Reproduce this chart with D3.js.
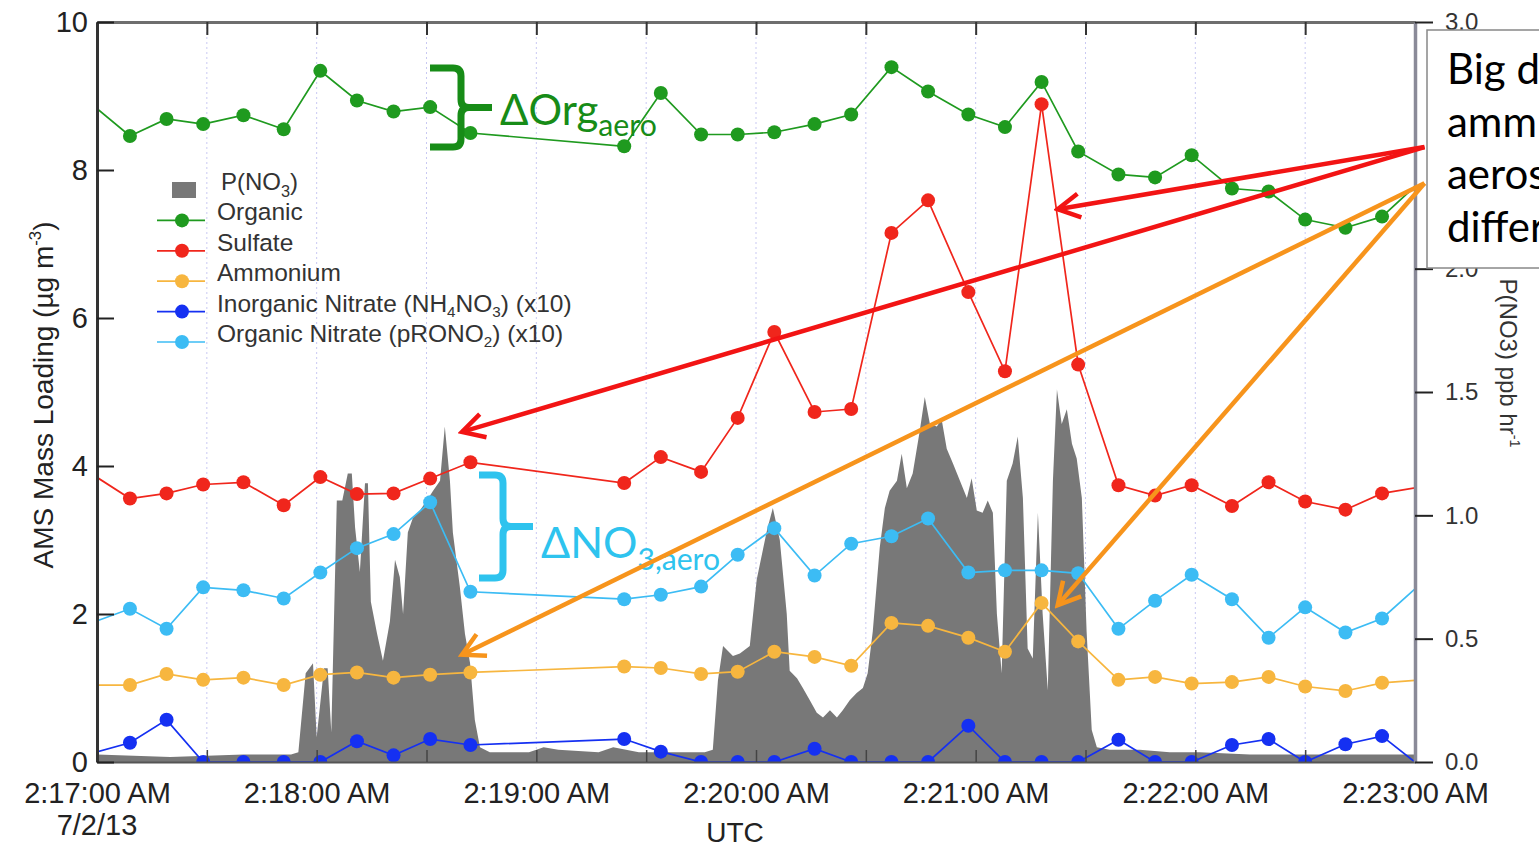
<!DOCTYPE html>
<html>
<head>
<meta charset="utf-8">
<script src="https://cdn.jsdelivr.net/npm/d3@7"></script>
<style>
  body { margin: 0; background: #fff; }
  svg { display: block; font-family: "Liberation Sans", Arial, sans-serif; }
</style>
</head>
<body>
<svg id="chart" width="1539" height="848"></svg>
<script>
// AMS samples, seconds after 2:17:00 UTC (first / last sit just outside the axis)
const sampleSec = [-2, 9, 19, 29, 40, 51, 61, 71, 81, 91, 102,
  144, 154, 165, 175, 185, 196, 206, 217, 227, 238,
  248, 258, 268, 279, 289, 299, 310, 320, 330, 341, 351, 362];

const organic = [8.91, 8.46, 8.69, 8.62, 8.74, 8.55, 9.34, 8.94, 8.79, 8.85, 8.50,
  8.32, 9.04, 8.48, 8.48, 8.51, 8.62, 8.75, 9.39, 9.06, 8.75,
  8.58, 9.19, 8.25, 7.94, 7.90, 8.20, 7.75, 7.71, 7.33, 7.22, 7.37, 7.87];
const sulfate = [3.91, 3.56, 3.63, 3.75, 3.78, 3.47, 3.85, 3.62, 3.63, 3.83, 4.05,
  3.77, 4.12, 3.92, 4.65, 5.81, 4.73, 4.77, 7.15, 7.59, 6.35,
  5.28, 8.89, 5.37, 3.74, 3.60, 3.74, 3.46, 3.78, 3.52, 3.41, 3.63, 3.72];
const ammonium = [1.04, 1.04, 1.19, 1.11, 1.14, 1.04, 1.18, 1.21, 1.14, 1.18, 1.21,
  1.29, 1.27, 1.19, 1.22, 1.49, 1.42, 1.30, 1.88, 1.84, 1.68,
  1.49, 2.15, 1.63, 1.11, 1.15, 1.06, 1.08, 1.15, 1.02, 0.96, 1.07, 1.11];
const inorgNitrate = [0.11, 0.26, 0.57, 0, 0, 0, 0, 0.28, 0.09, 0.31, 0.23,
  0.31, 0.14, 0, 0, 0, 0.18, 0, 0, 0, 0.49,
  0, 0, 0, 0.30, 0, 0, 0.23, 0.31, 0, 0.24, 0.35, -0.08];
const orgNitrate = [1.87, 2.07, 1.80, 2.36, 2.32, 2.21, 2.56, 2.89, 3.08, 3.51, 2.30,
  2.20, 2.26, 2.37, 2.80, 3.16, 2.52, 2.95, 3.05, 3.29, 2.56,
  2.59, 2.59, 2.55, 1.80, 2.18, 2.53, 2.20, 1.68, 2.09, 1.75, 1.94, 2.43];

// P(NO3) production rate, ppb/hr (right axis)
const pSec = [0, 20, 40, 53, 55, 57, 59, 60, 62, 63, 64, 65.5, 67, 68.5, 69.6, 70.5, 71.8, 73.2, 74,
  74.8, 76.5, 78.1, 80, 81.4, 82.7, 83.6, 84.9, 86.3, 88.2, 90.1, 91.8, 93.7, 95, 96.4, 97.2,
  99.1, 100.5, 101.9, 103.2, 104.6, 107.3, 118, 122, 126, 137, 141, 148, 166, 168.2, 169.6,
  171, 173.7, 175.6, 178.3, 180.2, 183, 184.6, 186.5, 188.4, 189.2, 191.2, 192.8, 194.7,
  196.6, 198.3, 200.2, 202.1, 203.7, 205.6, 207.5, 209.2, 210.5, 211.9, 213.8, 215.2, 216.5,
  218.5, 219.8, 221.2, 222.8, 224.7, 226.1, 227.5, 229.4, 230.7, 232.1, 233.8, 235.7, 237.6,
  238.9, 240.3, 241.9, 243.3, 244.7, 245.8, 247.1, 248.5, 250.1, 251.5, 252.9, 254.2, 255.6,
  257, 258.3, 259.7, 261.1, 262.2, 263.5, 264.9, 266.3, 267.6, 269, 270.3, 271.7, 273.1,
  276.6, 284.8, 293, 301.2, 314.9, 328.5, 342.2, 360];
const pVal = [0.03, 0.02, 0.03, 0.03, 0.04, 0.36, 0.40, 0.10, 0.38, 0.38, 0.12, 1.06, 1.06, 1.17, 1.17, 0.95, 0.77, 1.13, 1.13,
  0.65, 0.52, 0.41, 0.57, 0.82, 0.75, 0.60, 0.93, 0.99, 1.02, 1.06, 1.10, 1.14, 1.36, 1.14, 0.93,
  0.71, 0.52, 0.40, 0.17, 0.06, 0.04, 0.04, 0.06, 0.05, 0.04, 0.06, 0.04, 0.04, 0.05, 0.33,
  0.47, 0.43, 0.44, 0.47, 0.74, 0.94, 1.03, 0.90, 0.60, 0.37, 0.34, 0.30, 0.25,
  0.20, 0.18, 0.21, 0.18, 0.21, 0.25, 0.28, 0.30, 0.36, 0.53, 0.87, 1.03, 1.10,
  1.14, 1.25, 1.11, 1.17, 1.34, 1.48, 1.37, 1.36, 1.39, 1.27, 1.21, 1.14, 1.07,
  1.15, 1.02, 1.01, 1.06, 1.01, 0.60, 0.36, 1.14, 1.21, 1.32, 1.07, 0.46, 0.42,
  1.01, 0.60, 0.29, 1.14, 1.51, 1.37, 1.43, 1.29, 1.23, 1.07, 0.53, 0.13, 0.06,
  0.05, 0.05, 0.04, 0.04, 0.03, 0.03, 0.03, 0.03];

const seriesNames = ["Organic", "Sulfate", "Ammonium",
  "Inorganic Nitrate (NH4NO3) (x10)", "Organic Nitrate (pRONO2) (x10)"];
const seriesValues = [organic, sulfate, ammonium, inorgNitrate, orgNitrate];
const seriesColors = ["#1f9a1f", "#f0261c", "#f7b63f", "#1530f2", "#3cbcf4"];
const legendParts = [
  ["Organic"], ["Sulfate"], ["Ammonium"],
  ["Inorganic Nitrate (NH", ["4", "sub"], "NO", ["3", "sub"], ") (x10)"],
  ["Organic Nitrate (pRONO", ["2", "sub"], ") (x10)"]
];

const leftTicks = [0, 2, 4, 6, 8, 10];
const rightTicks = [0, 0.5, 1, 1.5, 2, 3];   // 2.5 sits under the callout box

const svg = d3.select("#chart");
const t0 = Date.UTC(2013, 6, 2, 2, 17, 0);
const at = s => new Date(t0 + s * 1000);

const plot = {left: 97, right: 1415, top: 22, bottom: 762};
const x = d3.scaleUtc().domain([at(0), at(360)]).range([plot.left, plot.right]);
const yL = d3.scaleLinear().domain([0, 10]).range([plot.bottom, plot.top]);
const yR = d3.scaleLinear().domain([0, 3]).range([plot.bottom, plot.top]);

// rich text helper: sub / superscripts
function rich(t, parts, fs, scale, shift) {
  let off = 0;
  parts.forEach(p => {
    const s = typeof p === "string" ? p : p[0];
    const k = typeof p === "string" ? "" : p[1];
    const target = k === "sub" ? fs * (shift || 0.28) : k === "sup" ? -fs * 0.42 : 0;
    const sp = t.append("tspan").attr("dy", target - off).text(s);
    if (k) sp.attr("font-size", fs * (scale || 0.68));
    off = target;
  });
}

svg.append("defs").append("clipPath").attr("id", "plotClip")
  .append("rect")
  .attr("x", plot.left).attr("y", plot.top)
  .attr("width", plot.right - plot.left).attr("height", plot.bottom - plot.top);

// dotted vertical grid every 30 s
const halfMin = d3.range(30, 360, 30);
svg.append("g").selectAll("line").data(halfMin).enter().append("line")
  .attr("x1", d => x(at(d))).attr("x2", d => x(at(d)))
  .attr("y1", plot.top).attr("y2", plot.bottom)
  .attr("stroke", "#c9c9f2").attr("stroke-width", 1).attr("stroke-dasharray", "2,3");

// P(NO3) area
const pData = pSec.map((s, i) => ({s: s, v: pVal[i]}));
svg.append("path").datum(pData)
  .attr("clip-path", "url(#plotClip)")
  .attr("fill", "#787878")
  .attr("d", d3.area().x(d => x(at(d.s))).y0(yR(0)).y1(d => yR(d.v)));

// AMS series
const lineG = svg.append("g").attr("clip-path", "url(#plotClip)");
seriesValues.forEach((vals, k) => {
  const pts = sampleSec.map((s, i) => ({s: s, v: vals[i]}));
  lineG.append("path").datum(pts)
    .attr("fill", "none").attr("stroke", seriesColors[k]).attr("stroke-width", 1.7)
    .attr("d", d3.line().x(d => x(at(d.s))).y(d => yL(d.v)));
  lineG.selectAll(".m" + k).data(pts).enter().append("circle")
    .attr("class", "m" + k)
    .attr("cx", d => x(at(d.s))).attr("cy", d => yL(d.v)).attr("r", 7)
    .attr("fill", seriesColors[k]);
});

// axes
const tickVals = d3.range(0, 361, 30).map(at);
const fmt = d3.utcFormat("%-I:%M:%S %p");

const gTop = svg.append("g").attr("transform", "translate(0," + plot.top + ")")
  .call(d3.axisTop(x).tickValues(tickVals).tickSizeInner(-13).tickSizeOuter(0).tickFormat(""));
gTop.select(".domain").attr("stroke", "#6e6e6e").attr("stroke-width", 3);
gTop.selectAll(".tick line").attr("stroke", "#333").attr("stroke-width", 2);

const gBot = svg.append("g").attr("transform", "translate(0," + plot.bottom + ")")
  .call(d3.axisBottom(x).tickValues(tickVals).tickSizeInner(-12).tickSizeOuter(0).tickPadding(20)
    .tickFormat(d => d.getUTCSeconds() === 0 ? fmt(d) : ""));
gBot.select(".domain").attr("stroke", "#555").attr("stroke-width", 2);
gBot.selectAll(".tick line").attr("stroke", "#444").attr("stroke-width", 1.5);
gBot.selectAll("text").attr("font-size", 29).attr("fill", "#222")
  .attr("font-family", "Liberation Sans, Arial, sans-serif");

const gL = svg.append("g").attr("transform", "translate(" + plot.left + ",0)")
  .call(d3.axisLeft(yL).tickValues(leftTicks).tickSizeInner(-17).tickSizeOuter(0).tickPadding(9));
gL.select(".domain").attr("stroke", "#333").attr("stroke-width", 3);
gL.selectAll(".tick line").attr("stroke", "#222").attr("stroke-width", 2);
gL.selectAll("text").attr("font-size", 29).attr("fill", "#222")
  .attr("font-family", "Liberation Sans, Arial, sans-serif");

const gR = svg.append("g").attr("transform", "translate(" + plot.right + ",0)")
  .call(d3.axisRight(yR).tickValues(rightTicks).tickFormat(d3.format(".1f"))
    .tickSizeInner(18).tickSizeOuter(0).tickPadding(12));
gR.select(".domain").attr("stroke", "#8a8a98").attr("stroke-width", 3.5);
gR.selectAll(".tick line").attr("stroke", "#222").attr("stroke-width", 2);
gR.selectAll("text").attr("font-size", 24).attr("fill", "#333")
  .attr("font-family", "Liberation Sans, Arial, sans-serif");

// axis titles
svg.append("text").attr("x", x(at(0))).attr("y", 835).attr("text-anchor", "middle")
  .attr("font-size", 29).attr("fill", "#222").text("7/2/13");
svg.append("text").attr("x", 735).attr("y", 842).attr("text-anchor", "middle")
  .attr("font-size", 28).attr("fill", "#222").text("UTC");

const yTitle = svg.append("text").attr("transform", "translate(53,395) rotate(-90)")
  .attr("text-anchor", "middle").attr("font-size", 28).attr("fill", "#222");
rich(yTitle, ["AMS Mass Loading (µg m", ["-3", "sup"], ")"], 28, 0.6);

const rTitle = svg.append("text").attr("transform", "translate(1500,363) rotate(90)")
  .attr("text-anchor", "middle").attr("font-size", 24).attr("fill", "#333");
rich(rTitle, ["P(NO3) ppb hr", ["-1", "sup"]], 24, 0.6);

// legend
const legend = svg.append("g");
const rowY = i => 190 + i * 30.4;
legend.append("rect").attr("x", 172).attr("y", rowY(0) - 8).attr("width", 24).attr("height", 16)
  .attr("fill", "#787878");
rich(legend.append("text").attr("x", 221).attr("y", rowY(0)).attr("dy", "0.35em")
  .attr("font-size", 24).attr("fill", "#333"), ["P(NO", ["3", "sub"], ")"], 24);
seriesNames.forEach((name, k) => {
  const yy = rowY(k + 1);
  legend.append("line").attr("x1", 157).attr("x2", 205).attr("y1", yy).attr("y2", yy)
    .attr("stroke", seriesColors[k]).attr("stroke-width", 1.7);
  legend.append("circle").attr("cx", 182).attr("cy", yy).attr("r", 7).attr("fill", seriesColors[k]);
  rich(legend.append("text").attr("x", 217).attr("y", yy).attr("dy", "0.35em")
    .attr("font-size", 24.5).attr("fill", "#333"), legendParts[k], 24.5, 0.62, 0.22);
});

// brackets and delta labels
const green = "#178c17", cyan = "#2ec3ee";
function bracket(x0, xm, xn, y0, y1, col) {
  const ym = (y0 + y1) / 2;
  const p = d3.path();
  p.moveTo(x0, y0); p.lineTo(xm - 8, y0); p.quadraticCurveTo(xm, y0, xm, y0 + 8);
  p.lineTo(xm, ym - 8); p.quadraticCurveTo(xm, ym, xm + 8, ym); p.lineTo(xn, ym);
  p.moveTo(xm + 8, ym); p.quadraticCurveTo(xm, ym, xm, ym + 8);
  p.lineTo(xm, y1 - 8); p.quadraticCurveTo(xm, y1, xm - 8, y1); p.lineTo(x0, y1);
  svg.append("path").attr("d", p.toString()).attr("fill", "none")
    .attr("stroke", col).attr("stroke-width", 7).attr("stroke-linecap", "butt");
}
bracket(430, 461, 492, 68, 147, green);
bracket(479, 503, 533, 475, 578, cyan);

rich(svg.append("text").attr("x", 500).attr("y", 125).attr("font-family", "Lato, sans-serif")
  .attr("font-size", 42).attr("fill", green), ["ΔOrg", ["aero", "sub"]], 42, 0.72, 0.25);
rich(svg.append("text").attr("x", 541).attr("y", 558).attr("font-family", "Lato, sans-serif")
  .attr("font-size", 43).attr("fill", cyan), ["ΔNO", ["3,aero", "sub"]], 43, 0.7, 0.28);

// arrows, anchored in data units [seconds, left-axis value]
const arrows = [
  {col: "#f21414", from: [362.6, 8.31], to: [262.4, 7.47]},
  {col: "#f21414", from: [362.6, 8.31], to: [99.7, 4.46]},
  {col: "#f7941c", from: [362.6, 7.82], to: [99.7, 1.45]},
  {col: "#f7941c", from: [362.6, 7.82], to: [262.4, 2.12]}
];
const defs = svg.select("defs");
["#f21414", "#f7941c"].forEach((c, i) => {
  defs.append("marker").attr("id", "ah" + i).attr("markerUnits", "userSpaceOnUse")
    .attr("viewBox", "-30 -16 34 32").attr("refX", 0).attr("refY", 0)
    .attr("markerWidth", 34).attr("markerHeight", 32).attr("orient", "auto")
    .append("path").attr("d", "M-22,-12 L0,0 L-22,12").attr("fill", "none")
    .attr("stroke", c).attr("stroke-width", 4.5).attr("stroke-linejoin", "miter");
});
arrows.forEach(a => {
  svg.append("line")
    .attr("x1", x(at(a.from[0]))).attr("y1", yL(a.from[1]))
    .attr("x2", x(at(a.to[0]))).attr("y2", yL(a.to[1]))
    .attr("stroke", a.col).attr("stroke-width", 4.5)
    .attr("marker-end", "url(#ah" + (a.col === "#f21414" ? 0 : 1) + ")");
});

// callout box (cut off by the page edge)
const boxLines = ["Big d", "amm", "aeros", "differ"];
svg.append("rect").attr("x", 1427).attr("y", 30).attr("width", 140).attr("height", 238)
  .attr("fill", "#fff").attr("stroke", "#888").attr("stroke-width", 1.5);
svg.append("g").selectAll("text").data(boxLines).enter().append("text")
  .attr("x", 1447).attr("y", (d, i) => 84 + i * 52.5)
  .attr("font-family", "Lato, sans-serif").attr("font-size", 42).attr("fill", "#000")
  .text(d => d);
</script>
</body>
</html>
